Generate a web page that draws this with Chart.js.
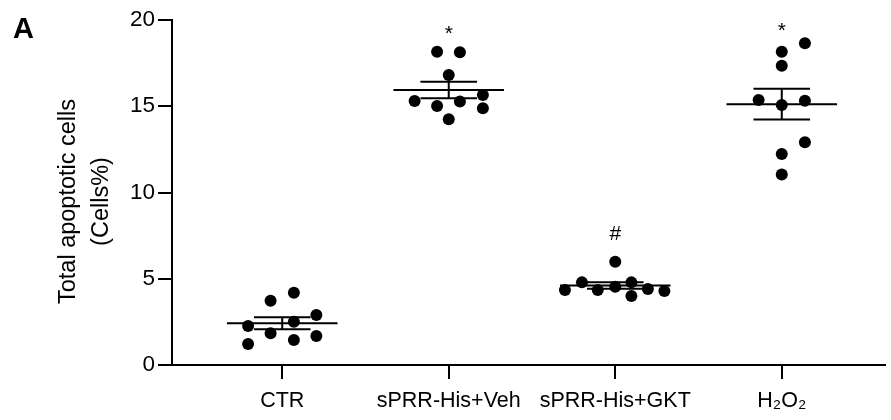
<!DOCTYPE html>
<html>
<head>
<meta charset="utf-8">
<script src="https://cdn.jsdelivr.net/npm/chart.js@4/dist/chart.umd.min.js"></script>
<style>
    body { margin: 0; background: #fff; }
</style>
</head>
<body>
<canvas id="apoptosis-chart" width="891" height="420"></canvas>
<script>
const groups = ['CTR', 'sPRR-His+Veh', 'sPRR-His+GKT', 'H₂O₂'];

const ctrValues = [2.26, 1.22, 3.73, 1.84, 4.19, 2.51, 1.45, 2.90, 1.68];
const vehValues = [18.16, 18.13, 16.81, 15.30, 15.01, 15.27, 15.65, 14.88, 14.24];
const gktValues = [5.99, 4.79, 4.35, 4.35, 4.54, 4.79, 4.41, 4.29, 4.00];
const h2o2Values = [18.65, 18.16, 17.35, 15.36, 15.07, 15.32, 12.91, 12.23, 11.05];

// sideways spread of each dot inside its column, in category units
const ctrSpread = [-0.205, -0.205, -0.07, -0.07, 0.07, 0.07, 0.07, 0.205, 0.205];
const vehSpread = [-0.07, 0.067, 0, -0.205, -0.07, 0.067, 0.205, 0.205, 0];
const gktSpread = [0, -0.2, -0.302, -0.105, 0, 0.097, 0.196, 0.295, 0.097];
const h2o2Spread = [0.139, 0, 0, -0.139, 0, 0.139, 0.139, 0, 0];

const yTicks = [0, 5, 10, 15, 20];
const significance = ['', '*', '#', '*'];
const significanceY = [null, 19.42, 7.65, 19.62];

const FONT = '"Liberation Sans", Arial, Helvetica, sans-serif';

function mean(values) {
    return values.reduce((a, b) => a + b, 0) / values.length;
}

function sem(values) {
    let m = mean(values);
    let variance = values.reduce((a, b) => a + (b - m) * (b - m), 0) / (values.length - 1);
    return Math.sqrt(variance) / Math.sqrt(values.length);
}

let allValues = [ctrValues, vehValues, gktValues, h2o2Values];
let allSpread = [ctrSpread, vehSpread, gktSpread, h2o2Spread];

let dots = [];
let meanLines = [];
let errorBars = [];
const meanHalf = 0.332;
const capHalf = 0.17;

allValues.forEach(function(values, i) {
    values.forEach(function(v, j) {
        dots.push({x: i + allSpread[i][j], y: v});
    });

    let m = mean(values);
    let s = sem(values);

    meanLines.push({x: i - meanHalf, y: m}, {x: i + meanHalf, y: m}, {x: i, y: null});

    errorBars.push(
        {x: i - capHalf, y: m + s}, {x: i + capHalf, y: m + s}, {x: i, y: null},
        {x: i, y: m + s}, {x: i, y: m - s}, {x: i, y: null},
        {x: i - capHalf, y: m - s}, {x: i + capHalf, y: m - s}, {x: i, y: null}
    );
});

// significance marks, y axis title and panel letter
const annotations = {
    id: 'annotations',
    afterDraw(chart) {
        let ctx = chart.ctx;
        let x = chart.scales.x;
        let y = chart.scales.y;

        ctx.save();
        ctx.fillStyle = '#000';
        ctx.textAlign = 'center';
        ctx.textBaseline = 'alphabetic';
        ctx.font = '21px ' + FONT;
        significance.forEach(function(mark, i) {
            if (!mark) return;
            let box = ctx.measureText(mark);
            let cy = y.getPixelForValue(significanceY[i]);
            ctx.fillText(mark, x.getPixelForValue(i), cy + (box.actualBoundingBoxAscent - box.actualBoundingBoxDescent) / 2);
        });

        ctx.font = '23.5px ' + FONT;
        ctx.textBaseline = 'middle';
        ctx.translate(85, 201.5);
        ctx.rotate(-Math.PI / 2);
        ctx.fillText('Total apoptotic cells', 0, -16.5);
        ctx.fillText('(Cells%)', 0, 16.5);
        ctx.restore();

        ctx.save();
        ctx.fillStyle = '#000';
        ctx.font = 'bold 29px ' + FONT;
        ctx.textAlign = 'left';
        ctx.textBaseline = 'alphabetic';
        ctx.fillText('A', 13, 38);
        ctx.restore();
    }
};

let lineStyle = {
    showLine: true,
    spanGaps: false,
    borderColor: '#000',
    borderWidth: 2,
    pointRadius: 0,
    pointHoverRadius: 0
};

new Chart(document.getElementById('apoptosis-chart'), {
    type: 'scatter',
    data: {
        datasets: [
            Object.assign({data: meanLines, order: 2}, lineStyle),
            Object.assign({data: errorBars, order: 2}, lineStyle),
            {
                data: dots,
                order: 1,
                backgroundColor: '#000',
                borderColor: '#000',
                borderWidth: 0,
                pointRadius: 6,
                pointHoverRadius: 6
            }
        ]
    },
    options: {
        responsive: false,
        animation: false,
        events: [],
        layout: {
            padding: {top: 20, right: 0, left: 0, bottom: 0}
        },
        plugins: {
            legend: {display: false},
            tooltip: {enabled: false}
        },
        scales: {
            x: {
                type: 'linear',
                min: -0.662,
                max: 3.62,
                afterBuildTicks: function(scale) {
                    scale.ticks = groups.map(function(g, i) { return {value: i}; });
                },
                afterFit: function(scale) {
                    scale.height = 55;
                },
                ticks: {
                    autoSkip: false,
                    maxRotation: 0,
                    padding: 9,
                    color: '#000',
                    font: {family: FONT, size: 21.5},
                    callback: function(value, index) {
                        return groups[index];
                    }
                },
                grid: {
                    display: true,
                    drawOnChartArea: false,
                    drawTicks: true,
                    tickLength: 14,
                    color: '#000',
                    lineWidth: 2
                },
                border: {display: true, color: '#000', width: 2}
            },
            y: {
                min: 0,
                max: 20,
                afterBuildTicks: function(scale) {
                    scale.ticks = yTicks.map(function(v) { return {value: v}; });
                },
                afterFit: function(scale) {
                    scale.width = 172;
                },
                ticks: {
                    padding: 3,
                    color: '#000',
                    font: {family: FONT, size: 22.5}
                },
                grid: {
                    display: true,
                    drawOnChartArea: false,
                    drawTicks: true,
                    tickLength: 14,
                    color: '#000',
                    lineWidth: 2
                },
                border: {display: true, color: '#000', width: 2}
            }
        }
    },
    plugins: [annotations]
});
</script>
</body>
</html>
